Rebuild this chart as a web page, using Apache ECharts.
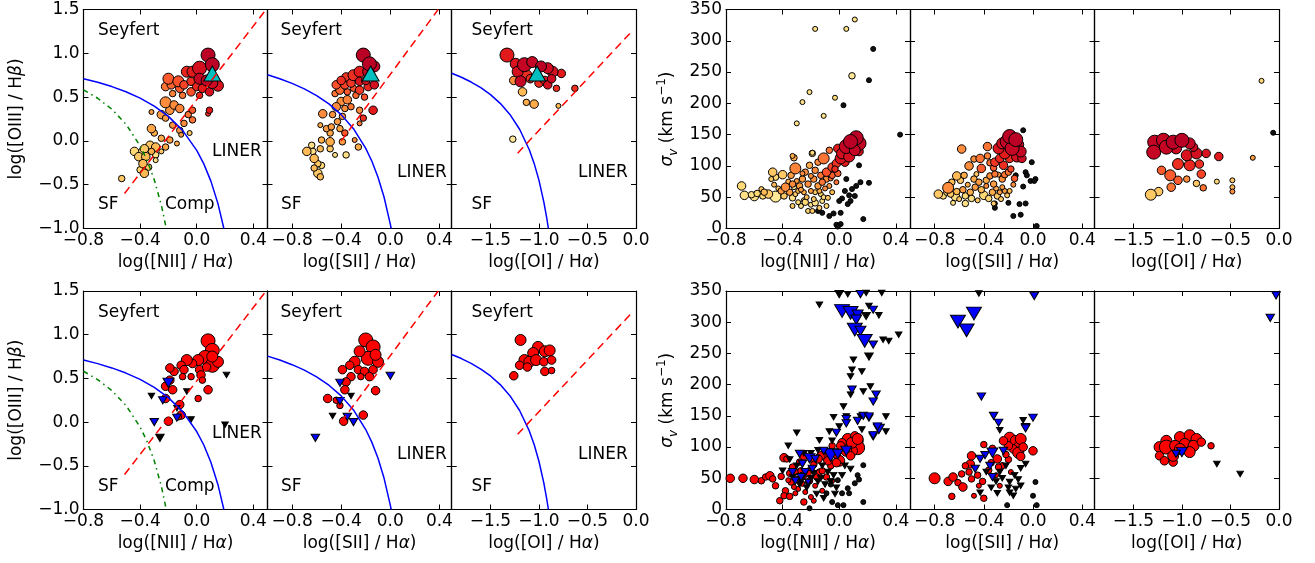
<!DOCTYPE html>
<html><head><meta charset="utf-8">
<script src="https://cdn.jsdelivr.net/npm/echarts@6.0.0/dist/echarts.min.js"></script>
<style>html,body{margin:0;padding:0;background:#fff}#c{width:1315px;height:563px}</style>
</head><body><div id="c"></div>
<script>
// ---------------- tick labels ----------------
const xTicksNII = [-0.8, -0.4, 0, 0.4];
const xTicksSII = [-0.8, -0.4, 0, 0.4];
const xTicksOI = [-1.5, -1.0, -0.5, 0];
const yTicksBPT = [-1.0, -0.5, 0, 0.5, 1.0, 1.5];
const yTicksSig = [0, 50, 100, 150, 200, 250, 300, 350];
const regionText = ['Seyfert', 'LINER', 'SF', 'Comp'];

// ---------------- demarcation lines ----------------
const kewNII = [[-0.8,0.710],[-0.7,0.669],[-0.6,0.620],[-0.5,0.561],[-0.4,0.489],[-0.3,0.398],[-0.2,0.280],[-0.1,0.120],[0.0,-0.108],[0.05,-0.262],[0.1,-0.459],[0.15,-0.716],[0.19,-0.989],[0.1935,-1.0]];
const kauNII = [[-0.8,0.582],[-0.7,0.487],[-0.6,0.362],[-0.5,0.191],[-0.4,-0.056],[-0.35,-0.225],[-0.3,-0.443],[-0.25,-0.733],[-0.215,-1.0]];
const sylNII = [[-0.51,-0.60],[0.49,1.50]];
const kewSII = [[-1.0,0.755],[-0.9,0.710],[-0.8,0.657],[-0.7,0.594],[-0.6,0.517],[-0.5,0.422],[-0.4,0.300],[-0.3,0.139],[-0.2,-0.085],[-0.15,-0.232],[-0.1,-0.414],[-0.05,-0.646],[0.0,-0.95],[0.007,-1.0]];
const sylSII = [[-0.40,0.0],[0.39,1.50]];
const kewOI = [[-1.9,0.773],[-1.8,0.727],[-1.7,0.672],[-1.6,0.607],[-1.5,0.528],[-1.4,0.429],[-1.3,0.302],[-1.2,0.133],[-1.1,-0.101],[-1.05,-0.257],[-1.0,-0.451],[-0.95,-0.698],[-0.92,-0.882],[-0.903,-1.0]];
const sylOI = [[-1.22,-0.14],[-0.06,1.23]];

// ---------------- top row: [x, y, colourValue, sizeClass] ----------------
const bptNIItop = [[0.08,0.98,0.88,5],[0.11,0.87,0.88,5],[0.02,0.83,0.8,5],[-0.03,0.79,0.75,4],[-0.07,0.79,0.72,4],[0.02,0.71,0.85,4],[0.07,0.69,0.86,4],[0.15,0.63,0.78,4],[0.11,0.66,0.82,4],[-0.04,0.68,0.7,3],[0.0,0.62,0.72,3],[0.04,0.6,0.75,3],[0.09,0.56,0.8,3],[-0.04,0.56,0.62,3],[-0.09,0.64,0.65,3],[-0.13,0.68,0.62,4],[-0.2,0.71,0.6,4],[-0.12,0.6,0.6,3],[-0.18,0.64,0.58,3],[-0.22,0.62,0.55,3],[-0.1,0.52,0.55,2],[-0.17,0.54,0.52,2],[0.02,0.52,0.7,2],[0.09,0.35,0.75,2],[0.08,0.31,0.7,1],
[-0.22,0.44,0.5,4],[-0.16,0.41,0.5,3],[-0.12,0.37,0.52,3],[-0.19,0.35,0.48,3],[-0.25,0.3,0.45,3],[-0.32,0.33,0.45,1],[-0.03,0.35,0.6,2],[-0.06,0.3,0.55,2],[-0.03,0.24,0.55,2],[-0.09,0.2,0.5,2],[-0.22,0.26,0.45,2],[-0.17,0.18,0.48,2],[-0.12,0.12,0.45,2],[-0.11,0.07,0.45,1],[-0.05,0.09,0.3,1],[-0.14,-0.03,0.4,1],[-0.32,0.14,0.42,3],[-0.3,0.09,0.4,2],[-0.25,0.03,0.4,2],[-0.19,0.01,0.45,2],[-0.22,-0.07,0.42,2],[-0.29,-0.07,0.35,3],[-0.33,-0.05,0.3,3],[-0.37,-0.09,0.3,3],[-0.32,-0.12,0.38,2],[-0.44,-0.12,0.25,3],[-0.39,-0.12,0.18,2],[-0.41,-0.18,0.3,3],[-0.36,-0.18,0.35,3],[-0.29,-0.16,0.2,2],[-0.25,-0.12,0.3,1],[-0.38,-0.26,0.35,3],[-0.34,-0.3,0.3,2],[-0.37,-0.37,0.35,3],[-0.4,-0.33,0.25,2],[-0.53,-0.43,0.3,2],[-0.29,-0.22,0.2,1]];
const bptSIItop = [[-0.22,0.98,0.88,5],[-0.17,0.88,0.88,5],[-0.13,0.85,0.85,4],[-0.25,0.79,0.75,4],[-0.18,0.79,0.85,4],[-0.3,0.75,0.7,4],[-0.36,0.73,0.68,3],[-0.4,0.69,0.7,3],[-0.44,0.64,0.62,3],[-0.37,0.64,0.65,3],[-0.32,0.66,0.68,3],[-0.25,0.68,0.78,3],[-0.2,0.69,0.8,3],[-0.13,0.64,0.8,3],[-0.18,0.62,0.72,3],[-0.25,0.58,0.68,3],[-0.3,0.6,0.62,2],[-0.35,0.56,0.6,2],[-0.41,0.58,0.58,3],[-0.45,0.54,0.55,2],[-0.28,0.52,0.58,2],[-0.21,0.5,0.62,2],
[-0.4,0.45,0.5,3],[-0.35,0.47,0.52,3],[-0.44,0.39,0.5,3],[-0.37,0.37,0.5,2],[-0.32,0.39,0.55,2],[-0.25,0.35,0.5,2],[-0.14,0.35,0.75,3],[-0.22,0.26,0.7,2],[-0.25,0.2,0.55,1],[-0.55,0.31,0.5,3],[-0.47,0.3,0.48,2],[-0.39,0.28,0.48,2],[-0.43,0.22,0.45,2],[-0.57,0.18,0.4,1],[-0.52,0.14,0.45,2],[-0.48,0.16,0.45,2],[-0.41,0.14,0.42,2],[-0.37,0.09,0.6,2],[-0.49,0.09,0.42,2],[-0.56,0.01,0.38,2],[-0.49,-0.01,0.4,3],[-0.39,-0.01,0.45,2],[-0.29,0.01,0.5,1],[-0.26,-0.07,0.4,2],[-0.64,-0.05,0.2,2],[-0.68,-0.12,0.35,3],[-0.63,-0.12,0.2,2],[-0.57,-0.09,0.35,2],[-0.49,-0.09,0.3,2],[-0.45,-0.16,0.2,1],[-0.36,-0.16,0.2,2],[-0.62,-0.2,0.35,3],[-0.59,-0.26,0.3,2],[-0.56,-0.28,0.25,2],[-0.62,-0.31,0.35,2],[-0.59,-0.37,0.3,3],[-0.57,-0.41,0.35,2]];
const bptOItop = [[-1.33,0.98,0.75,5],[-1.24,0.88,0.78,4],[-1.15,0.87,0.85,5],[-1.07,0.9,0.85,4],[-0.98,0.85,0.88,4],[-0.91,0.83,0.82,4],[-0.86,0.79,0.8,4],[-0.77,0.77,0.75,3],[-1.22,0.79,0.8,4],[-1.13,0.75,0.7,4],[-1.26,0.69,0.5,3],[-1.19,0.68,0.85,4],[-1.09,0.71,0.7,3],[-0.94,0.69,0.75,3],[-0.87,0.71,0.82,3],[-1.0,0.66,0.7,3],[-0.91,0.64,0.8,3],[-0.82,0.6,0.7,2],[-0.63,0.6,0.7,2],[-1.17,0.56,0.35,3],[-1.13,0.44,0.4,2],[-1.05,0.42,0.4,3],[-0.8,0.4,0.35,1],[-1.27,0.02,0.15,2]];
const agnNII = [[0.11, 0.77]];
const agnSII = [[-0.16, 0.77]];
const agnOI = [[-1.02, 0.77]];

const sigNIItop = [[0.12,145,0.88,5],[0.08,139,0.88,5],[0.14,136,0.85,5],[0.05,131,0.85,5],[0.11,125,0.85,4],[0.02,120,0.8,4],[0.07,115,0.8,4],[0.01,112,0.78,4],[0.14,123,0.8,3],[-0.01,128,0.75,3],[0.04,106,0.75,3],
[-0.02,104,0.68,3],[-0.05,98,0.65,3],[-0.09,90,0.62,3],[-0.07,125,0.55,2],[-0.11,112,0.55,4],[-0.15,106,0.5,2],[-0.19,120,0.25,2],[-0.32,113,0.4,2],[-0.31,96,0.52,4],[-0.21,101,0.4,2],[-0.24,90,0.5,2],[-0.17,93,0.5,2],[-0.13,85,0.55,2],[-0.05,85,0.6,2],[-0.09,79,0.5,2],[-0.18,79,0.5,2],[-0.26,79,0.45,2],[-0.34,85,0.45,2],[-0.38,66,0.5,3],[-0.33,71,0.5,2],[-0.28,68,0.45,2],[-0.22,71,0.5,2],[-0.15,68,0.45,2],[-0.12,74,0.55,2],[-0.07,68,0.45,1],[-0.02,74,0.55,1],[-0.2,60,0.45,1],[-0.25,58,0.4,1],[-0.29,60,0.35,1],[-0.35,58,0.45,2],[-0.41,60,0.45,2],
[-0.69,68,0.25,3],[-0.67,53,0.2,3],[-0.6,51,0.2,3],[-0.54,52,0.25,2],[-0.5,55,0.3,3],[-0.45,51,0.15,4],[-0.47,90,0.3,3],[-0.45,82,0.25,2],[-0.48,79,0.3,1],[-0.4,86,0.3,3],[-0.53,58,0.35,2],[-0.39,52,0.3,2],[-0.33,49,0.2,2],[-0.29,42,0.25,1],[-0.27,36,0.2,1],[-0.24,42,0.25,2],[-0.2,38,0.2,1],[-0.17,41,0.2,2],[-0.14,33,0.3,1],[-0.12,44,0.2,1],[-0.09,36,0.25,1],[-0.19,28,0.3,1],[-0.22,28,0.25,1],[-0.17,58,0.3,1],[-0.33,36,0.3,1],[-0.32,66,0.2,1],[-0.13,55,0.25,1],[-0.08,49,0.3,1],[-0.05,58,0.35,1],
[-0.36,75,0.4,1],[-0.31,55,0.3,1],[-0.27,62,0.45,1],[-0.23,50,0.35,1],[-0.18,47,0.3,1],[-0.14,60,0.4,1],[-0.1,64,0.5,1],[-0.06,80,0.55,1],[-0.01,88,0.6,2],[-0.03,95,0.7,2],[-0.43,64,0.3,1],[-0.46,70,0.35,1],[-0.55,63,0.3,1],[-0.58,56,0.25,2],[-0.62,54,0.2,2],[-0.26,88,0.5,1],[-0.2,84,0.5,1],[-0.3,76,0.45,1],[-0.25,45,0.2,1],[-0.11,50,0.25,1],
[-0.17,319,0.2,1],[0.05,319,0.2,1],[0.11,334,0.2,1],[0.09,244,0.15,2],[-0.21,218,0.2,1],[-0.26,202,0.2,1],[-0.11,180,0.2,1],[-0.3,168,0.2,1],[-0.33,116,0.4,1],[-0.19,121,0.25,1],[-0.03,209,0.25,1]];
const sigNIItopDark = [[0.24,287],[0.21,237],[0.03,197],[0.43,150],[0.14,101],[0.05,79],[0.15,74],[0.21,73],[0.12,68],[0.09,63],[0.04,60],[0.07,53],[0.11,52],[0.02,48],[0.0,44],[0.08,44],[0.06,39],[0.01,25],[-0.04,24],[-0.07,20],[-0.02,6],[0.01,7],[0.17,15],[-0.01,3],[-0.12,25],[-0.15,28]];
const sigSIItop = [[-0.19,147,0.88,5],[-0.14,142,0.88,5],[-0.21,139,0.85,5],[-0.12,134,0.85,4],[-0.1,123,0.85,4],[-0.17,128,0.85,5],[-0.25,136,0.8,4],[-0.28,128,0.78,4],[-0.23,120,0.75,4],[-0.13,115,0.8,4],[-0.09,112,0.82,3],[-0.19,112,0.7,3],[-0.27,112,0.72,3],[-0.24,101,0.7,3],[-0.31,106,0.68,3],
[-0.58,127,0.5,3],[-0.37,131,0.55,3],[-0.43,112,0.55,3],[-0.48,111,0.5,2],[-0.37,116,0.52,2],[-0.35,105,0.55,2],[-0.42,96,0.6,3],[-0.32,97,0.6,2],[-0.31,87,0.55,2],[-0.35,84,0.5,2],[-0.52,100,0.5,3],[-0.62,84,0.35,3],[-0.56,85,0.4,2],[-0.59,77,0.3,2],[-0.66,74,0.35,2],[-0.69,65,0.5,4],[-0.77,55,0.3,3],[-0.73,52,0.25,2],[-0.67,55,0.3,2],[-0.63,51,0.2,3],[-0.62,59,0.35,2],[-0.57,62,0.45,2],[-0.55,52,0.25,2],[-0.51,58,0.4,2],[-0.47,66,0.45,2],[-0.42,62,0.35,2],[-0.4,53,0.25,3],[-0.36,48,0.25,2],[-0.33,58,0.4,2],[-0.29,52,0.3,2],[-0.27,58,0.45,1],[-0.23,60,0.45,1],[-0.21,53,0.3,1],[-0.25,66,0.45,1],[-0.32,71,0.45,2],[-0.38,77,0.4,2],[-0.44,74,0.45,2],[-0.48,79,0.4,2],[-0.25,79,0.5,2],[-0.23,86,0.55,2],[-0.28,86,0.45,1],[-0.2,90,0.55,2],[-0.46,87,0.3,1],[-0.55,40,0.2,2],[-0.65,41,0.2,1],[-0.32,40,0.3,1],[-0.26,47,0.3,1],[-0.19,60,0.35,1],
[-0.5,48,0.2,2],[-0.45,45,0.3,1],[-0.6,47,0.3,1],[-0.38,68,0.5,1],[-0.3,64,0.4,1],[-0.16,70,0.5,1],[-0.15,80,0.6,2],[-0.18,95,0.65,2],[-0.7,58,0.25,2],[-0.53,70,0.4,1]];
const sigSIItopDark = [[-0.08,157],[-0.01,106],[-0.06,90],[-0.14,85],[-0.05,85],[0.02,79],[-0.08,67],[-0.06,40],[-0.11,39],[-0.31,33],[-0.31,40],[-0.16,20],[0.03,4],[-0.02,76],[0.01,76],[-0.2,41],[-0.1,22]];
const sigOItop = [[-1.28,138,0.85,5],[-1.19,141,0.85,5],[-1.09,138,0.88,5],[-1.0,141,0.88,5],[-0.92,136,0.85,4],[-1.29,122,0.85,5],[-1.16,130,0.85,5],[-1.06,128,0.82,4],[-0.88,130,0.82,3],[-0.95,117,0.78,4],[-0.85,120,0.8,4],[-0.75,120,0.78,3],[-0.62,115,0.75,3],[-1.04,103,0.7,4],[-0.92,101,0.72,4],[-0.82,103,0.7,3],[-1.21,93,0.6,3],[-1.12,85,0.6,4],[-1.04,77,0.6,3],[-0.8,87,0.65,3],[-1.11,66,0.55,3],[-0.95,79,0.5,2],[-0.85,72,0.3,2],[-0.78,65,0.55,2],[-0.64,75,0.25,1],[-1.24,59,0.3,3],[-1.32,54,0.3,4],[-0.48,77,0.3,1],[-0.48,66,0.35,1],[-0.48,59,0.5,1],[-0.27,113,0.45,1],[-0.18,236,0.25,1]];
const sigOItopDark = [[-0.06,153]];

// ---------------- bottom row: [x, y, sizeClass] ----------------
const bptNIIbotRed = [[0.08,0.93,5],[0.11,0.82,5],[0.06,0.74,5],[0.11,0.65,5],[0.01,0.71,4],[-0.03,0.67,3],[-0.07,0.71,4],[-0.11,0.65,3],[-0.09,0.6,3],[0.02,0.6,3],[0.07,0.63,3],[0.03,0.54,3],[-0.04,0.52,2],[-0.16,0.58,3],[-0.19,0.62,3],[-0.19,0.48,3],[-0.22,0.41,3],[-0.17,0.37,3],[-0.1,0.52,2],[0.08,0.37,3],[0.01,0.27,2],[-0.22,0.27,3],[-0.12,0.2,3],[-0.11,0.08,3],[-0.13,0.06,2],[-0.2,0.01,3],[0.15,0.69,4],[0.11,0.75,4],[0.04,0.48,2]];
const bptNIIbotBlue = [[-0.2,0.45,3],[-0.24,0.25,2],[-0.14,0.05,2],[-0.3,0.0,2]];
const bptNIIbotBlack = [[-0.32,0.3,1],[-0.07,0.35,1],[0.21,0.54,1],[-0.04,0.03,1],[0.2,-0.03,1],[-0.26,-0.18,2],[-0.14,0.16,1]];
const bptSIIbotRed = [[-0.2,0.94,5],[-0.14,0.86,5],[-0.18,0.73,5],[-0.25,0.81,4],[-0.29,0.69,4],[-0.33,0.65,3],[-0.39,0.6,3],[-0.26,0.6,3],[-0.21,0.58,3],[-0.14,0.6,3],[-0.1,0.69,4],[-0.12,0.77,4],[-0.17,0.52,3],[-0.24,0.52,2],[-0.32,0.52,3],[-0.36,0.46,3],[-0.37,0.37,3],[-0.12,0.36,3],[-0.22,0.08,3],[-0.51,0.27,3],[-0.44,0.25,2],[-0.41,0.19,2],[-0.38,0.01,3]];
const bptSIIbotBlue = [[-0.41,0.45,2],[-0.41,0.24,2],[-0.35,0.06,2],[-0.3,0.0,2],[-0.61,-0.18,2],[0.0,0.53,2]];
const bptSIIbotBlack = [[-0.47,0.07,1],[-0.32,0.3,1]];
const bptOIbotRed = [[-1.19,0.94,4],[-1.01,0.86,4],[-0.94,0.81,4],[-0.89,0.82,4],[-1.06,0.79,4],[-1.15,0.71,4],[-1.1,0.69,4],[-1.03,0.71,4],[-0.95,0.69,3],[-0.87,0.71,3],[-1.2,0.65,3],[-1.12,0.63,3],[-0.94,0.58,3],[-0.87,0.59,2],[-1.26,0.53,3]];

const sigNIIbotRed = [[-0.77,50,3],[-0.68,50,3],[-0.6,48,3],[-0.55,46,2],[-0.52,52,2],[-0.49,54,3],[-0.47,49,2],[-0.45,38,2],[-0.41,53,2],[-0.39,83,3],[-0.37,81,2],[-0.38,30,2],[-0.39,22,2],[-0.35,21,2],[-0.42,14,2],[-0.25,12,2],[-0.18,14,1],[-0.24,28,1],
[0.12,110,5],[0.13,99,5],[0.09,94,4],[0.06,113,4],[0.02,107,3],[0.05,94,4],[0.0,78,4],[-0.02,89,3],[-0.07,91,3],[-0.09,83,3],[-0.13,86,3],[-0.15,81,3],[-0.18,78,2],[-0.25,86,3],[0.08,86,3],[0.01,102,3],[0.11,118,3],[-0.05,102,2],[0.09,107,4],[0.13,113,4],
[-0.31,60,2],[-0.33,68,2],[-0.27,62,2],[-0.2,65,2],[-0.14,60,2],[-0.09,52,2],[-0.05,46,1],[-0.21,46,2],[-0.26,41,1],[-0.17,38,1],[-0.12,30,1],[-0.29,33,1],[-0.34,44,2],[-0.32,36,1],
[-0.35,58,2],[-0.3,48,2],[-0.25,52,1],[-0.22,58,2],[-0.16,52,2],[-0.12,62,2],[-0.06,70,2],[-0.02,75,3],[-0.28,76,2],[-0.36,47,1],[-0.18,72,2],[-0.08,78,3],[-0.31,26,1],[-0.2,20,1]];
const sigNIIbotBlue = [[-0.06,87,4],[-0.01,89,3],[0.05,94,3],[-0.11,94,2],[-0.21,82,3],[-0.17,81,2],[-0.28,89,2],[-0.26,73,2],[-0.33,60,2],[-0.24,60,2],[-0.19,65,2],[-0.27,52,2],[-0.31,46,2],[-0.22,44,1],[-0.02,123,2],[0.05,145,2],[0.17,150,2],[0.21,147,2],[0.28,129,3],[0.24,117,2],[0.13,142,2],
[0.02,318,4],[0.08,315,4],[0.13,312,3],[0.24,320,2],[0.12,304,3],[0.11,288,4],[0.15,286,3],[0.18,270,4],[0.24,264,2],[0.09,192,2],[0.26,184,2],[0.24,173,2],[0.05,138,2],[0.21,149,2],[0.27,133,2],[0.24,119,2],[0.15,345,2]];
const sigNIIbotBlack = [[-0.14,328,1],[0.0,345,2],[0.06,345,1],[0.19,347,1],[0.3,347,1],[0.19,310,2],[0.28,311,1],[0.21,326,1],[0.31,272,1],[0.35,270,1],[0.42,280,1],[0.21,245,2],[0.1,240,1],[0.09,224,1],[0.16,221,1],[0.08,213,1],[0.17,189,1],[0.22,197,1],[0.08,184,1],[0.03,165,1],[-0.04,148,1],[0.05,149,1],[0.15,149,1],[0.33,149,1],[0.33,125,1],[-0.3,123,1],[-0.07,125,1],[-0.14,111,1],[-0.36,102,1],[0.0,133,1],[0.16,128,1],
[-0.3,70,1],[-0.25,55,1],[-0.2,50,1],[-0.15,45,1],[-0.1,40,1],[-0.28,40,1],[-0.23,35,1],[-0.18,58,1],[-0.12,70,1],[-0.08,60,1],[-0.04,55,1],[-0.02,35,1],[-0.16,25,1],[-0.33,52,1],[-0.4,62,1],[-0.2,90,1],[0.04,70,1],
[-0.27,45,1],[-0.22,40,1],[-0.13,50,1],[-0.06,45,1],[-0.03,25,1],[-0.11,18,1],[0.02,55,1],[-0.35,80,1],[-0.25,90,1],[-0.15,95,1],[-0.05,110,1],[0.08,65,1]];
const sigNIIbotDots = [[0.17,71],[0.13,55],[0.11,42],[0.14,48],[0.17,12],[-0.01,47],[0.02,26],[0.03,7],[-0.01,7],[-0.05,12],[-0.09,26],[0.06,34],[0.07,26],[-0.06,40],[-0.21,2]];
const sigSIIbotRed = [[-0.8,50,4],[-0.69,45,3],[-0.65,52,3],[-0.61,43,2],[-0.57,36,3],[-0.5,49,2],[-0.52,60,2],[-0.51,73,3],[-0.5,86,3],[-0.4,104,2],[-0.33,98,2],[-0.29,81,3],[-0.19,115,4],[-0.14,110,4],[-0.12,99,4],[-0.16,97,3],[-0.12,91,4],[-0.1,113,4],[-0.2,102,3],[-0.24,110,3],[0.0,94,3],[-0.66,21,2],[-0.48,22,1],[-0.4,18,2],[-0.27,38,1],[-0.58,57,2],[-0.44,38,1],[-0.45,55,2],[-0.41,45,2],[-0.36,63,2],[-0.3,55,1],[-0.25,70,2],[-0.2,80,2],[-0.55,70,2],
[-0.34,75,2],[-0.28,68,2],[-0.22,88,2],[-0.18,60,1],[-0.08,100,3],[-0.1,85,3]];
const sigSIIbotBlue = [[-0.61,301,4],[-0.54,287,4],[-0.48,314,4],[0.01,342,2],[-0.42,181,2],[-0.06,132,2],[-0.32,150,2],[-0.28,139,2],[0.0,147,2],[-0.06,130,2],[-0.39,87,2],[-0.33,91,3],[-0.24,94,2],[-0.43,81,2],[-0.35,70,2],[-0.47,65,2],[-0.33,52,2]];
const sigSIIbotBlack = [[-0.44,346,1],[-0.32,151,1],[-0.28,140,1],[-0.27,127,1],[-0.08,143,1],[-0.27,60,1],[-0.19,44,1],[-0.14,33,1],[-0.1,38,1],[-0.1,66,1],[-0.06,73,1],[-0.29,26,1],[-0.43,27,1],[-0.19,27,1],[-0.16,22,1],[-0.22,70,1],[-0.38,60,1],[-0.3,45,1],[-0.15,55,1],
[-0.25,50,1],[-0.2,35,1],[-0.12,48,1],[-0.34,35,1]];
const sigSIIbotDots = [[0.02,44],[0.0,22],[0.03,7],[-0.21,7]];
const sigOIbotRed = [[-1.16,110,4],[-1.02,116,4],[-0.92,119,4],[-0.85,113,4],[-1.23,100,4],[-1.16,100,5],[-1.07,102,4],[-0.97,105,4],[-0.88,102,4],[-0.8,108,3],[-0.7,102,2],[-1.23,86,3],[-1.18,78,3],[-1.09,76,3],[-1.09,86,4],[-1.02,97,4],[-0.92,92,4]];
const sigOIbotBlue = [[-1.0,92,3],[-1.06,89,2],[-0.09,307,2],[-0.03,343,2]];
const sigOIbotBlack = [[-0.64,73,1],[-0.4,57,1]];

// ---------------- layout & styling ----------------
const FONT = 'DejaVu Sans';
const colX = [[83.5,267.5],[267.5,451.7],[451.7,636],[726,910],[910,1094.5],[1094.5,1279]];
const rowY = [[9.5,228.5],[291,509.5]];
const xCfg = [
  {min:-0.8, max:0.5, ticks:xTicksNII, name:'log([NII] / H{i|α})'},
  {min:-1.0, max:0.5, ticks:xTicksSII, name:'log([SII] / H{i|α})'},
  {min:-1.9, max:0,   ticks:xTicksOI,  name:'log([OI] / H{i|α})'}
];
const YlOrRd = ['#ffffcc','#ffeda0','#fed976','#feb24c','#fd8d3c','#fc4e2a','#e31a1c','#bd0026','#800026'];
const SZC = [0, 5, 6.5, 8.5, 11, 14];
const SZT = [0, 6.5, 8.5, 11, 15];
const fmt1 = v => (v < 0 ? '\u2212' : '') + Math.abs(v).toFixed(1);
const fmt0 = v => String(v);
const lbl = {fontSize:17, fontFamily:FONT, color:'#000'};
const nameStyle = {fontSize:17, fontFamily:FONT, color:'#000',
  rich:{ i:{fontSize:17, fontFamily:FONT, fontStyle:'italic', color:'#000'},
         n:{fontSize:17, fontFamily:FONT, color:'#000', lineHeight:24},
         s:{fontSize:12, fontFamily:FONT, fontStyle:'italic', color:'#000', verticalAlign:'bottom', lineHeight:12},
         p:{fontSize:12, fontFamily:FONT, color:'#000', verticalAlign:'top', lineHeight:12} }};

const grids = [], xAxes = [], yAxes = [], series = [], colored = [];
const axLine = {show:true, onZero:false, lineStyle:{color:'#000', width:1.2}};
for (let r = 0; r < 2; r++) for (let c = 0; c < 6; c++) {
  const p = r*6 + c;
  const xc = xCfg[c % 3];
  const bpt = c < 3;
  grids.push({left:colX[c][0], top:rowY[r][0], width:colX[c][1]-colX[c][0], height:rowY[r][1]-rowY[r][0], containLabel:false, outerBoundsMode:'none'});
  const xTick = {show:true, inside:true, length:5, customValues:xc.ticks, lineStyle:{color:'#000', width:1}};
  xAxes.push({type:'value', gridIndex:p, position:'bottom', min:xc.min, max:xc.max, splitLine:{show:false}, axisLine:axLine, axisTick:xTick,
    axisLabel:Object.assign({show:true, margin:4, customValues:xc.ticks, formatter:fmt1, showMinLabel:true, showMaxLabel:true}, lbl),
    name:xc.name, nameLocation:'middle', nameGap:26, nameTextStyle:nameStyle});
  xAxes.push({type:'value', gridIndex:p, position:'top', min:xc.min, max:xc.max, splitLine:{show:false}, axisLine:axLine, axisTick:xTick, axisLabel:{show:false}});
  const yt = bpt ? yTicksBPT : yTicksSig;
  const yTick = {show:true, inside:true, length:5, customValues:yt, lineStyle:{color:'#000', width:1}};
  const first = (c === 0 || c === 3);
  const yl = {type:'value', gridIndex:p, position:'left', min: bpt ? -1.0 : 0, max: bpt ? 1.5 : 350, splitLine:{show:false}, axisLine:axLine, axisTick:yTick,
    axisLabel: first ? Object.assign({show:true, margin:4, customValues:yt, formatter: bpt ? fmt1 : fmt0, showMinLabel:true, showMaxLabel:true}, lbl) : {show:false}};
  if (first) {
    yl.name = bpt ? 'log([OIII] / H{i|β})' : '{i|σ}{s|v}{n| (km s}{p|\u22121}{n|)}';
    yl.nameLocation = 'middle'; yl.nameRotate = 90; yl.nameGap = bpt ? 58 : 46; yl.nameTextStyle = nameStyle;
  }
  yAxes.push(yl);
  yAxes.push({type:'value', gridIndex:p, position:'right', min: bpt ? -1.0 : 0, max: bpt ? 1.5 : 350, splitLine:{show:false}, axisLine:axLine, axisTick:yTick, axisLabel:{show:false}});
}

function add(p, data, opt) {
  series.push(Object.assign({type:'scatter', xAxisIndex:2*p, yAxisIndex:2*p, data:data, silent:true, animation:false}, opt));
  return series.length - 1;
}
const circ = (d) => SZC[d[3]];
const sortC = arr => arr.slice().sort((a,b) => a[2]-b[2]);
const colStyle = {borderColor:'#000', borderWidth:1, opacity:1};
function colorSeries(p, data) { colored.push(add(p, sortC(data), {symbol:'circle', symbolSize:circ, itemStyle:colStyle})); }
function darkDots(p, data) { add(p, data, {symbol:'circle', symbolSize:5, itemStyle:{color:'#111', borderColor:'#000', borderWidth:1, opacity:1}}); }
function redC(p, data) { add(p, data, {symbol:'circle', symbolSize:d => SZC[d[2]], itemStyle:{color:'#ff0000', borderColor:'#000', borderWidth:1, opacity:1}}); }
function triD(p, data, col) { add(p, data, {symbol:'triangle', symbolRotate:180, symbolSize:d => [SZT[d[2]], SZT[d[2]]*0.85], itemStyle:{color:col, borderColor:'#000', borderWidth:1, opacity:1}}); }
function line(p, data, color, type) {
  series.push({type:'line', xAxisIndex:2*p, yAxisIndex:2*p, data:data, symbol:'none', showSymbol:false, silent:true, animation:false,
    lineStyle:{color:color, width:1.5, type:type, opacity:1}, clip:true});
}
function agn(p, data) { add(p, data, {symbol:'triangle', symbolSize:[17,15], itemStyle:{color:'#00bfbf', borderColor:'#000', borderWidth:1, opacity:1}}); }

// top row
colorSeries(0, bptNIItop); colorSeries(1, bptSIItop); colorSeries(2, bptOItop);
darkDots(3, sigNIItopDark); colorSeries(3, sigNIItop);
darkDots(4, sigSIItopDark); colorSeries(4, sigSIItop);
darkDots(5, sigOItopDark); colorSeries(5, sigOItop);
// bottom row
redC(6, bptNIIbotRed); triD(6, bptNIIbotBlack, '#000'); triD(6, bptNIIbotBlue, '#0000ff');
redC(7, bptSIIbotRed); triD(7, bptSIIbotBlack, '#000'); triD(7, bptSIIbotBlue, '#0000ff');
redC(8, bptOIbotRed);
redC(9, sigNIIbotRed); darkDots(9, sigNIIbotDots); triD(9, sigNIIbotBlack, '#000'); triD(9, sigNIIbotBlue, '#0000ff');
redC(10, sigSIIbotRed); darkDots(10, sigSIIbotDots); triD(10, sigSIIbotBlack, '#000'); triD(10, sigSIIbotBlue, '#0000ff');
redC(11, sigOIbotRed); triD(11, sigOIbotBlack, '#000'); triD(11, sigOIbotBlue, '#0000ff');
// demarcation lines
for (const r of [0, 1]) {
  const b = r*6;
  line(b, kewNII, '#0000ff', 'solid'); line(b, kauNII, '#008000', [5,4,1.5,4]); line(b, sylNII, '#ff0000', [8,5]);
  line(b+1, kewSII, '#0000ff', 'solid'); line(b+1, sylSII, '#ff0000', [8,5]);
  line(b+2, kewOI, '#0000ff', 'solid'); line(b+2, sylOI, '#ff0000', [8,5]);
}
agn(0, agnNII); agn(1, agnSII); agn(2, agnOI);

// region annotations
const graphics = [];
function txt(t, x, y) { graphics.push({type:'text', x:x, y:y, silent:true, style:{text:t, fontSize:17, fontFamily:FONT, fill:'#000', verticalAlign:'middle', align:'left'}}); }
for (const r of [0, 1]) {
  const dy = r*281.5;
  txt(regionText[0], 98, 31+dy); txt(regionText[1], 212, 152+dy); txt(regionText[2], 98, 205+dy); txt(regionText[3], 165, 205+dy);
  txt(regionText[0], 280.5, 31+dy); txt(regionText[1], 397, 173+dy); txt(regionText[2], 281, 205+dy);
  txt(regionText[0], 471.5, 31+dy); txt(regionText[1], 578, 173+dy); txt(regionText[2], 471.5, 205+dy);
}

const chart = echarts.init(document.getElementById('c'), null, {renderer:'canvas'});
chart.setOption({
  animation:false,
  backgroundColor:'#fff',
  textStyle:{fontFamily:FONT},
  grid:grids, xAxis:xAxes, yAxis:yAxes, series:series,
  visualMap:[{type:'continuous', show:false, dimension:2, min:0, max:1, seriesIndex:colored, inRange:{color:YlOrRd, opacity:1}}],
  graphic:graphics
});
</script></body></html>
